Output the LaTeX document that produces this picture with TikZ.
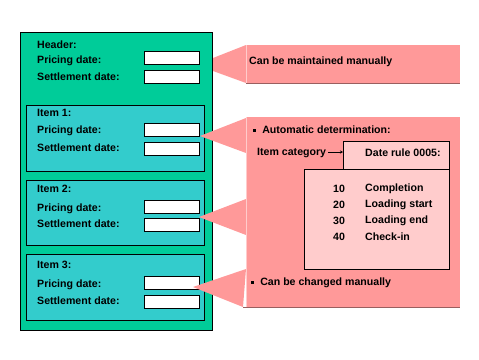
\documentclass[tikz,border=0pt]{standalone}
\usepackage{fontspec}
\setmainfont{Liberation Sans}
\usepackage{tikz}
\usetikzlibrary{positioning,arrows.meta}

\definecolor{docgreen}{HTML}{00CC99}
\definecolor{itemteal}{HTML}{33CCCC}
\definecolor{notepink}{HTML}{FF9999}
\definecolor{notelight}{HTML}{FFCCCC}
\definecolor{noteshade}{HTML}{995F5F}

\begin{document}
\begin{tikzpicture}[
  x=1pt, y=-1pt,
  font=\fontsize{10.6}{12}\selectfont\bfseries,
  docbox/.style={
    rectangle, draw=black, fill=docgreen, line width=0.9pt,
    anchor=north west, inner sep=0pt
  },
  itembox/.style={
    rectangle, draw=black, fill=itemteal, line width=0.8pt,
    minimum width=178pt, anchor=north west, inner sep=0pt
  },
  field/.style={
    rectangle, draw=black, fill=white, line width=0.8pt,
    minimum width=55pt, minimum height=13pt, anchor=north west, inner sep=0pt
  },
  txt/.style={anchor=west, inner sep=0pt},
  note/.style={fill=notepink, draw=none},
  rulebox/.style={
    rectangle, draw=black, fill=notelight, line width=0.8pt,
    anchor=north west, inner sep=0pt
  },
  arrow/.style={-{Stealth[length=3pt,width=3pt]}, line width=0.7pt, black}
]
\useasboundingbox (0,0) rectangle (479,359);

% --- Document: header and items ---
\node[docbox, minimum width=192pt, minimum height=298pt] (doc) at (20,32) {};

\node[txt] (hdr) at (37,45) {Header:};
\node[txt] (hdrprice) at (37,61) {Pricing date:};
\node[txt] (hdrsettle) at (37,77) {Settlement date:};
\node[field] (fhdrprice) at (144,51) {};
\node[field] (fhdrsettle) at (144,70) {};

\node[itembox, minimum height=66pt] (item1) at (26,105) {};
\node[txt] (it1) at (37,113) {Item 1:};
\node[txt] (it1price) at (37,131) {Pricing date:};
\node[txt] (it1settle) at (37,148) {Settlement date:};
\node[field] (fit1price) at (144,123) {};
\node[field] (fit1settle) at (144,142) {};

\node[itembox, minimum height=65pt] (item2) at (26,180) {};
\node[txt] (it2) at (37,189) {Item 2:};
\node[txt] (it2price) at (37,209) {Pricing date:};
\node[txt] (it2settle) at (37,224) {Settlement date:};
\node[field] (fit2price) at (144,200) {};
\node[field] (fit2settle) at (144,218) {};

\node[itembox, minimum height=66pt] (item3) at (26,254) {};
\node[txt] (it3) at (37,265) {Item 3:};
\node[txt] (it3price) at (37,285) {Pricing date:};
\node[txt] (it3settle) at (37,301) {Settlement date:};
\node[field] (fit3price) at (144,276) {};
\node[field] (fit3settle) at (144,295) {};

% --- Note for the header ---
\fill[note] (213,58) -- (246,45) -- (246,83) -- (213,71) -- cycle;
\fill[note] (246,45) rectangle (460,83);
\draw[noteshade, line width=1pt] (246,83) -- (460,83);
\draw[notelight, line width=0.6pt] (246.5,45) -- (246.5,83);
\node[txt] (manual) at (249,62) {Can be maintained manually};

% --- Note for the items ---
\fill[note] (200,136) -- (246,118) -- (246,153) -- cycle;
\fill[note] (199,217) -- (246,199) -- (246,235) -- cycle;
\fill[note] (193,287) -- (246,269) -- (243,307) -- cycle;
\fill[note] (246,117) rectangle (460,307);
\draw[noteshade, line width=1pt] (243,307) -- (460,307);
\draw[notelight, line width=0.6pt] (246.5,117) -- (246.5,307);

\node[txt] (auto) at (253,130) {\rule[1.8pt]{2.6pt}{2.6pt}\hspace{6.5pt}Automatic determination:};
\node[txt] (itemcat) at (257,153) {Item category};
\node[rulebox, minimum width=106pt, minimum height=30pt] (daterule) at (343,141) {};
\node[txt] (rulename) at (365,153) {Date rule 0005:};
\node[rulebox, minimum width=145pt, minimum height=100pt] (ruledates) at (304,169) {};
\draw[arrow] (itemcat.east) ++(2pt,1pt) coordinate (catend) (catend) -- (daterule.west |- catend);

\node[txt] (n10) at (333,189) {10};
\node[txt] (n20) at (333,205) {20};
\node[txt] (n30) at (333,221) {30};
\node[txt] (n40) at (333,237) {40};
\node[txt] (d10) at (365,189) {Completion};
\node[txt] (d20) at (365,205) {Loading start};
\node[txt] (d30) at (365,221) {Loading end};
\node[txt] (d40) at (365,237) {Check-in};

\node[txt] (changed) at (251,283) {\rule[1.8pt]{2.6pt}{2.6pt}\hspace{6.5pt}Can be changed manually};

\end{tikzpicture}
\end{document}
